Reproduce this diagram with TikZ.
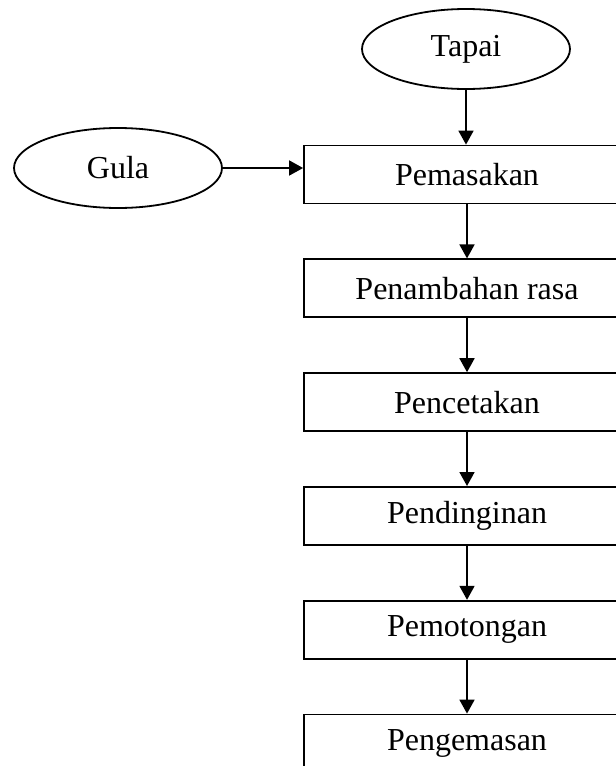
\documentclass[tikz,border=0pt]{standalone}
\usepackage{fontspec}
\setmainfont{Liberation Serif}
\usetikzlibrary{arrows.meta,positioning,shapes.geometric}
\tikzset{
  stepbox/.style={draw, line width=1.8pt, fill=white, minimum width=326pt, minimum height=58pt, inner sep=0pt},
  inbahan/.style={draw, line width=1.8pt, ellipse, fill=white, minimum width=208pt, minimum height=80pt, inner sep=0pt},
  alur/.style={-{Triangle[length=14pt,width=15pt]}, line width=1.8pt}
}

\begin{document}
\begin{tikzpicture}[x=1pt, y=1pt, node distance=54pt, font=\fontsize{32}{38}\selectfont]
  \useasboundingbox (0,0) rectangle (616,-766);
  \node[inbahan] (tapai) at (466,-49) {Tapai};
  \node[inbahan] (gula) at (118,-168) {Gula};
  \node[stepbox] (masak) at (467,-174.5) {Pemasakan};
  \node[stepbox, below=of masak] (rasa) {Penambahan rasa};
  \node[stepbox, below=of rasa] (cetak) {Pencetakan};
  \node[stepbox, below=of cetak] (dingin) {Pendinginan};
  \node[stepbox, below=of dingin] (potong) {Pemotongan};
  \node[stepbox, below=of potong] (kemas) {Pengemasan};
  \draw[alur] (tapai) -- (tapai |- masak.north);
  \draw[alur] (gula) -- (gula -| masak.west);
  \draw[alur] (masak) -- (rasa);
  \draw[alur] (rasa) -- (cetak);
  \draw[alur] (cetak) -- (dingin);
  \draw[alur] (dingin) -- (potong);
  \draw[alur] (potong) -- (kemas);
\end{tikzpicture}
\end{document}
